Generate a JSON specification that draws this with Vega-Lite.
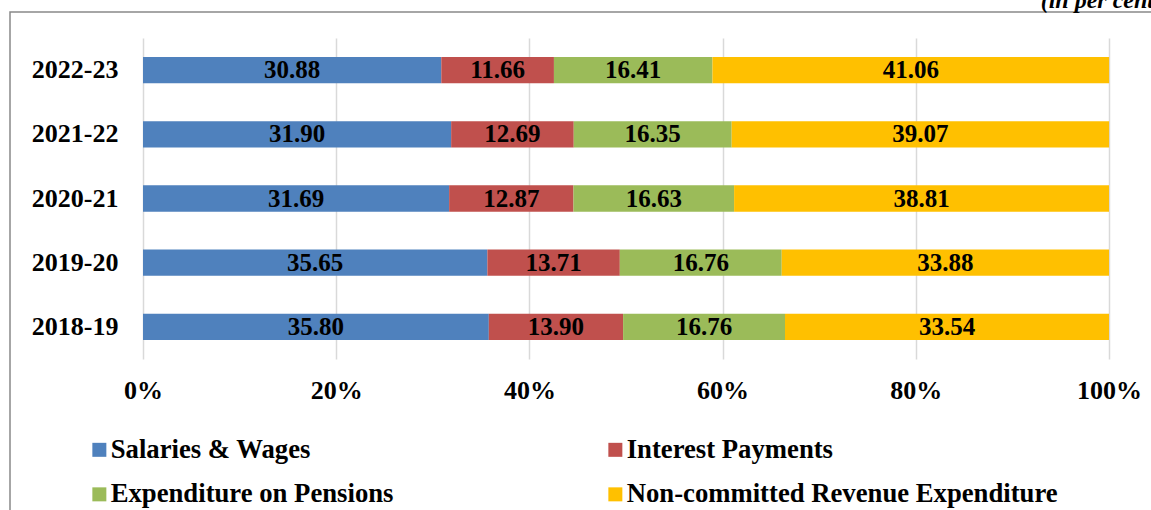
{
  "$schema": "https://vega.github.io/schema/vega-lite/v6.json",
  "autosize": "none",
  "width": 1141,
  "height": 498,
  "padding": {"left": 10, "top": 12, "right": 0, "bottom": 0},
  "background": "white",
  "title": {
    "text": "(in per cent)",
    "orient": "top",
    "anchor": "end",
    "frame": "group",
    "font": "Liberation Serif",
    "fontSize": 24,
    "fontWeight": "bold",
    "fontStyle": "italic",
    "color": "black",
    "baseline": "alphabetic",
    "offset": -20,
    "dx": 11
  },
  "config": {
    "font": "Liberation Serif",
    "view": {"stroke": "#898989", "strokeWidth": 1.5, "strokeDash": [1141, 1639, 498]}
  },
  "data": {
    "values": [
      {"year": "2022-23", "category": "Salaries & Wages", "k": 1, "value": 30.88},
      {"year": "2022-23", "category": "Interest Payments", "k": 2, "value": 11.66},
      {"year": "2022-23", "category": "Expenditure on Pensions", "k": 3, "value": 16.41},
      {"year": "2022-23", "category": "Non-committed Revenue Expenditure", "k": 4, "value": 41.06},
      {"year": "2021-22", "category": "Salaries & Wages", "k": 1, "value": 31.90},
      {"year": "2021-22", "category": "Interest Payments", "k": 2, "value": 12.69},
      {"year": "2021-22", "category": "Expenditure on Pensions", "k": 3, "value": 16.35},
      {"year": "2021-22", "category": "Non-committed Revenue Expenditure", "k": 4, "value": 39.07},
      {"year": "2020-21", "category": "Salaries & Wages", "k": 1, "value": 31.69},
      {"year": "2020-21", "category": "Interest Payments", "k": 2, "value": 12.87},
      {"year": "2020-21", "category": "Expenditure on Pensions", "k": 3, "value": 16.63},
      {"year": "2020-21", "category": "Non-committed Revenue Expenditure", "k": 4, "value": 38.81},
      {"year": "2019-20", "category": "Salaries & Wages", "k": 1, "value": 35.65},
      {"year": "2019-20", "category": "Interest Payments", "k": 2, "value": 13.71},
      {"year": "2019-20", "category": "Expenditure on Pensions", "k": 3, "value": 16.76},
      {"year": "2019-20", "category": "Non-committed Revenue Expenditure", "k": 4, "value": 33.88},
      {"year": "2018-19", "category": "Salaries & Wages", "k": 1, "value": 35.80},
      {"year": "2018-19", "category": "Interest Payments", "k": 2, "value": 13.90},
      {"year": "2018-19", "category": "Expenditure on Pensions", "k": 3, "value": 16.76},
      {"year": "2018-19", "category": "Non-committed Revenue Expenditure", "k": 4, "value": 33.54}
    ]
  },
  "encoding": {
    "y": {
      "field": "year",
      "type": "nominal",
      "sort": ["2022-23", "2021-22", "2020-21", "2019-20", "2018-19"],
      "scale": {"range": [26, 347], "paddingInner": 0.59, "paddingOuter": 0.295},
      "axis": {
        "title": null,
        "orient": "left",
        "offset": -133,
        "domain": false,
        "ticks": false,
        "grid": false,
        "labelPadding": 25,
        "labelFont": "Liberation Serif",
        "labelFontSize": 26,
        "labelFontWeight": "bold",
        "labelColor": "black",
        "labelLimit": 300
      }
    },
    "x": {
      "field": "value",
      "type": "quantitative",
      "stack": "zero",
      "scale": {"domain": [0, 100], "range": [133, 1099], "nice": false},
      "axis": {
        "title": null,
        "orient": "top",
        "offset": -347,
        "minExtent": 0,
        "maxExtent": 0,
        "values": [0, 20, 40, 60, 80, 100],
        "labelExpr": "datum.value + '%'",
        "labelFlush": false,
        "labelAlign": "center",
        "labelBaseline": "alphabetic",
        "domain": false,
        "ticks": false,
        "grid": true,
        "gridColor": "#D9D9D9",
        "gridWidth": 1.5,
        "labelPadding": -39,
        "labelFont": "Liberation Serif",
        "labelFontSize": 26,
        "labelFontWeight": "bold",
        "labelColor": "black"
      }
    },
    "order": {"field": "k", "type": "quantitative"}
  },
  "layer": [
    {
      "mark": {"type": "bar"},
      "encoding": {
        "color": {
          "field": "category",
          "type": "nominal",
          "scale": {
            "domain": ["Salaries & Wages", "Interest Payments", "Expenditure on Pensions", "Non-committed Revenue Expenditure"],
            "range": ["#4F81BD", "#C0504D", "#9BBB59", "#FFC000"]
          },
          "legend": {
            "title": null,
            "orient": "none",
            "legendX": 76,
            "legendY": 424,
            "direction": "horizontal",
            "columns": 2,
            "columnPadding": 208,
            "rowPadding": 17,
            "padding": 0,
            "symbolType": "square",
            "symbolSize": 196,
            "symbolStrokeWidth": 0,
            "labelOffset": -2,
            "labelFont": "Liberation Serif",
            "labelFontSize": 26.7,
            "labelFontWeight": "bold",
            "labelColor": "black",
            "labelLimit": 600
          }
        }
      }
    },
    {
      "mark": {"type": "text", "font": "Liberation Serif", "fontSize": 25, "fontWeight": "bold", "color": "black", "baseline": "middle", "align": "center"},
      "encoding": {
        "x": {"field": "value", "type": "quantitative", "stack": "zero", "bandPosition": 0.5},
        "detail": {"field": "category"},
        "text": {"field": "value", "type": "quantitative", "format": ".2f"}
      }
    }
  ]
}
